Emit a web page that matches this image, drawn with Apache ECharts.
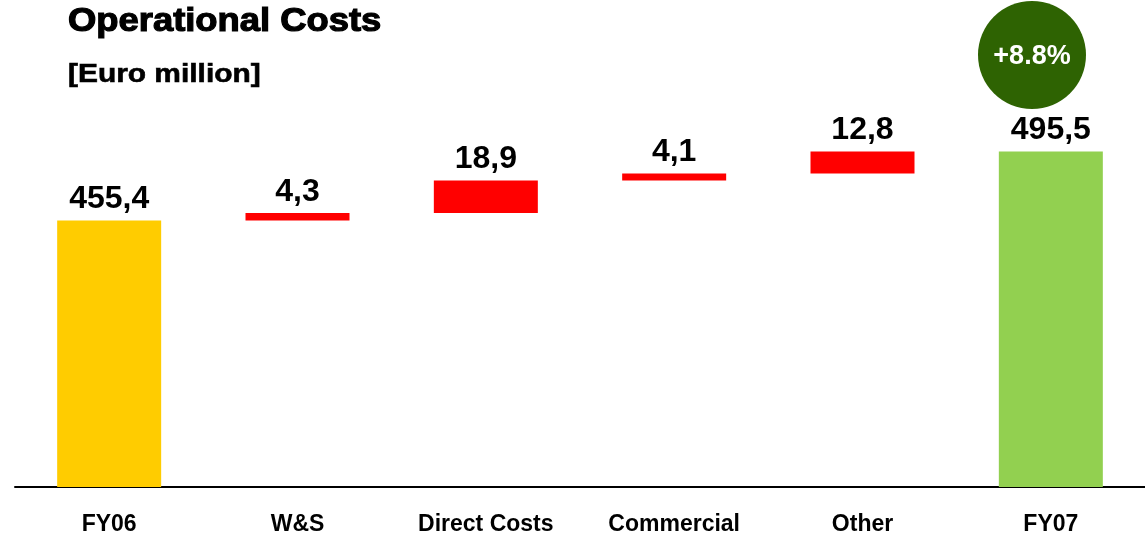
<!DOCTYPE html>
<html>
<head>
<meta charset="utf-8">
<script src="https://cdn.jsdelivr.net/npm/echarts@6/dist/echarts.min.js"></script>
<style>
    html, body { margin: 0; padding: 0; background: #fff; }
    #chart { width: 1145px; height: 537px; }
</style>
</head>
<body>
<div id="chart"></div>
<script>
// waterfall data
var categories = ['FY06', 'W&S', 'Direct Costs', 'Commercial', 'Other', 'FY07'];
var steps = [455.4, 4.3, 18.9, 4.1, 12.8, 495.5];
var barColors = ['#ffcc00', '#ff0000', '#ff0000', '#ff0000', '#ff0000', '#92d050'];
var growthText = '+8.8%';

// invisible base under each step (totals start from the axis)
var baseValues = [];
var running = 0;
for (var i = 0; i < steps.length; i++) {
    if (i === 0 || i === steps.length - 1) {
        baseValues.push('-');
        running = steps[i];
    } else {
        baseValues.push(running);
        running += steps[i];
    }
}

var visibleData = steps.map(function (v, i) {
    return { value: v, itemStyle: { color: barColors[i] } };
});

var myChart = echarts.init(document.getElementById('chart'));

var option = {
    backgroundColor: '#fff',
    animation: false,
    grid: { left: 15, right: 0, top: 101, bottom: 50 },
    xAxis: {
        type: 'category',
        data: categories,
        axisLine: { lineStyle: { color: '#000', width: 2 } },
        axisTick: { show: false },
        axisLabel: {
            margin: 26,
            fontFamily: 'Liberation Sans', fontSize: 23, fontWeight: 'bold', color: '#000'
        }
    },
    yAxis: {
        type: 'value',
        min: 300, max: 525,
        show: false,
        splitLine: { show: false }
    },
    series: [
        {
            type: 'bar',
            stack: 'wf',
            barWidth: 104,
            silent: true,
            itemStyle: { color: 'transparent' },
            data: baseValues
        },
        {
            type: 'bar',
            stack: 'wf',
            barWidth: 104,
            data: visibleData,
            label: {
                show: true,
                position: 'top',
                distance: 5,
                fontFamily: 'Liberation Sans', fontSize: 32, fontWeight: 'bold', color: '#000',
                formatter: function (p) { return p.value.toFixed(1).replace('.', ','); }
            }
        }
    ],
    graphic: [
        {
            type: 'text',
            x: 68, y: 22, scaleX: 1.07,
            style: {
                text: 'Operational Costs', fill: '#000',
                stroke: '#000', lineWidth: 1.2,
                font: 'bold 34px "Liberation Sans"',
                align: 'left', verticalAlign: 'middle'
            }
        },
        {
            type: 'text',
            x: 68, y: 75, scaleX: 1.15,
            style: {
                text: '[Euro million]', fill: '#000',
                stroke: '#000', lineWidth: 0.6,
                font: 'bold 26px "Liberation Sans"',
                align: 'left', verticalAlign: 'middle'
            }
        },
        {
            type: 'circle',
            shape: { cx: 1032, cy: 55, r: 54 },
            style: { fill: '#2e6302' }
        },
        {
            type: 'text',
            x: 1032, y: 57,
            style: {
                text: growthText, fill: '#fff',
                font: 'bold 27px "Liberation Sans"',
                align: 'center', verticalAlign: 'middle'
            }
        }
    ]
};

myChart.setOption(option);
</script>
</body>
</html>
